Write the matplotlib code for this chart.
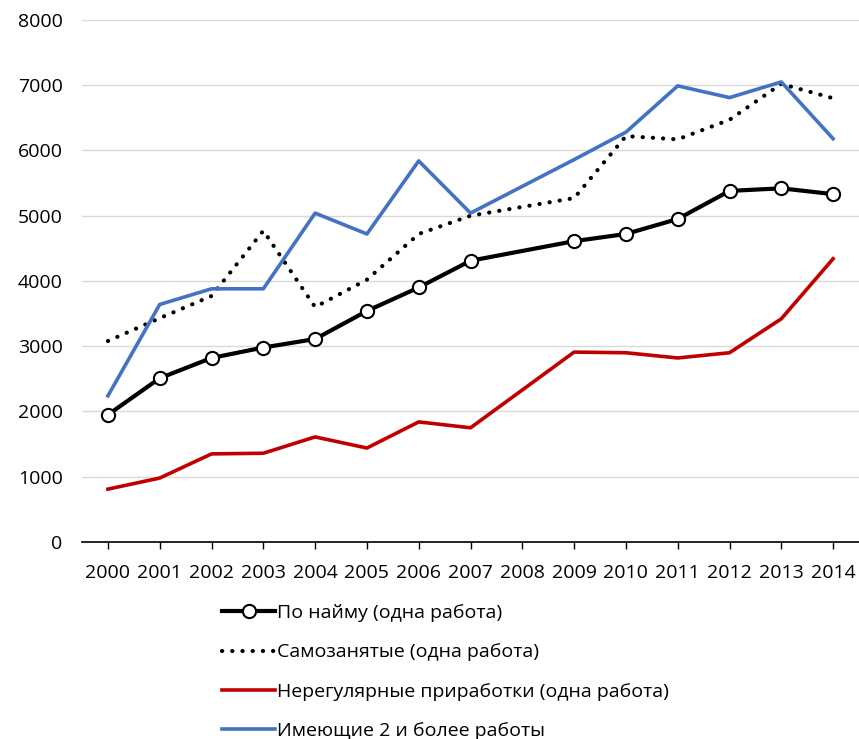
import numpy as np
import matplotlib
matplotlib.use("Agg")
import matplotlib.pyplot as plt

plt.rcParams['font.family'] = ['Open Sans', 'DejaVu Sans']

years = ['2000', '2001', '2002', '2003', '2004', '2005', '2006', '2007',
         '2008', '2009', '2010', '2011', '2012', '2013', '2014']

# 2008 has no data in the source; the lines just jump over it
hired = [1950, 2510, 2820, 2980, 3110, 3540, 3900, 4310,
         np.nan, 4610, 4720, 4950, 5380, 5420, 5330]
self_emp = [3080, 3430, 3770, 4770, 3600, 4020, 4720, 5000,
            np.nan, 5270, 6220, 6170, 6470, 7020, 6800]
irregular = [810, 980, 1350, 1360, 1610, 1440, 1840, 1750,
             np.nan, 2910, 2900, 2820, 2900, 3420, 4340]
multi_jobs = [2240, 3640, 3880, 3880, 5040, 4720, 5840, 5040,
              np.nan, 5860, 6280, 6990, 6810, 7050, 6180]

labels = ['По найму (одна работа)', 'Самозанятые (одна работа)',
          'Нерегулярные приработки (одна работа)', 'Имеющие 2 и более работы']

fig = plt.figure(figsize=(8.59, 7.39), dpi=100)
ax = fig.add_axes([0.0955, 0.2666, 0.9045, 0.7064])

x = np.arange(len(years))


def valid(vals):
    v = np.array(vals, dtype=float)
    m = ~np.isnan(v)
    return x[m], v[m]


xs, ys = valid(hired)
ax.plot(xs, ys, color='black', lw=3, marker='o', ms=9.5, mfc='white',
        mec='black', mew=1.5, label=labels[0], zorder=5)
xs, ys = valid(self_emp)
ax.plot(xs, ys, color='black', lw=3, linestyle=(0, (0.05, 2.4)),
        dash_capstyle='round', label=labels[1], zorder=4)
xs, ys = valid(irregular)
ax.plot(xs, ys, color='#c00000', lw=2.6, label=labels[2], zorder=4)
xs, ys = valid(multi_jobs)
ax.plot(xs, ys, color='#4472c4', lw=2.6, label=labels[3], zorder=4)

ax.set_xlim(-0.5, len(years) - 0.5)
ax.set_ylim(0, 8000)
ax.set_yticks(range(0, 8001, 1000))
ax.set_xticks(x)
ax.set_xticklabels(years)
ax.tick_params(axis='y', length=0, labelsize=14, pad=14)
ax.tick_params(axis='x', length=5, width=1, labelsize=14, pad=11, direction='out')
ax.grid(axis='y', color='#d9d9d9', lw=1)
ax.set_axisbelow(True)
for s in ['top', 'right', 'left']:
    ax.spines[s].set_visible(False)
ax.spines['bottom'].set_linewidth(1.2)

fig.legend(loc='upper left', bbox_to_anchor=(222 / 859, 1 - 604 / 739),
           frameon=False, fontsize=14, handlelength=2.75, handletextpad=0.1,
           labelspacing=1.1, borderpad=0, borderaxespad=0)

fig.savefig('out.png', dpi=100)
